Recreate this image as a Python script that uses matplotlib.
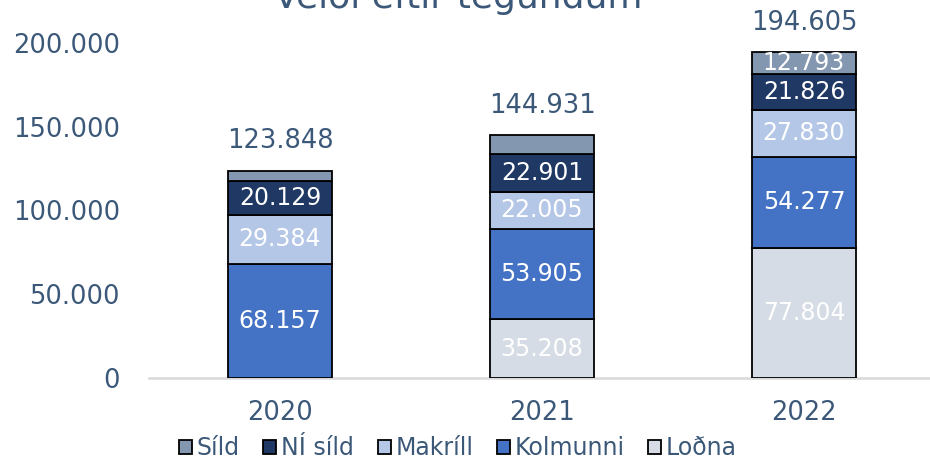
import numpy as np
import matplotlib
matplotlib.use("Agg")
import matplotlib.pyplot as plt
from matplotlib.patches import Patch

years = ['2020', '2021', '2022']
lodna = [0, 35208, 77804]
kolmunni = [68157, 53905, 54277]
makrill = [29384, 22005, 27830]
ni_sild = [20129, 22901, 21826]
sild = [6178, 10912, 12793]
totals = [123848, 144931, 194605]

series = [('Loðna', lodna, '#D6DCE5'),
          ('Kolmunni', kolmunni, '#4472C4'),
          ('Makríll', makrill, '#B4C7E7'),
          ('NÍ síld', ni_sild, '#1F3864'),
          ('Síld', sild, '#8497B0')]

txt = '#3B5878'

def fmt(v):
    return f'{v:,}'.replace(',', '.')

fig = plt.figure(figsize=(9.3, 4.62), dpi=100)
ax = fig.add_axes([149 / 930, 84 / 462, 786 / 930, 335 / 462])

x = np.arange(len(years))
bottom = np.zeros(len(years))
for name, vals, col in series:
    vals = np.array(vals)
    ax.bar(x, vals, 0.4, bottom=bottom, color=col, edgecolor='black', linewidth=1.3, zorder=3)
    for i, v in enumerate(vals):
        if v > 12000:
            ax.text(x[i], bottom[i] + v / 2, fmt(v), ha='center', va='center',
                    color='white', fontsize=17, zorder=4)
    bottom += vals

for i, t in enumerate(totals):
    ax.annotate(fmt(t), (x[i], bottom[i]), xytext=(0, 21), textcoords='offset points',
                ha='center', va='center', color=txt, fontsize=18.5, annotation_clip=False)

ax.set_xlim(-0.5, 2.5)
ax.set_ylim(0, 200000)
ax.set_yticks([0, 50000, 100000, 150000, 200000])
ax.set_yticklabels([fmt(v) for v in [0, 50000, 100000, 150000, 200000]])
ax.set_xticks(x)
ax.set_xticklabels(years)
ax.tick_params(axis='y', length=0, pad=21, labelsize=18.5, labelcolor=txt)
ax.tick_params(axis='x', length=0, pad=16, labelsize=18.5, labelcolor=txt)
for s in ['top', 'right', 'left']:
    ax.spines[s].set_visible(False)
ax.spines['bottom'].set_color('#D9D9D9')
ax.spines['bottom'].set_linewidth(1.8)
ax.spines['bottom'].set_zorder(2)

fig.text(458 / 930, 1 - 8 / 462, 'Veiði eftir tegundum', ha='center', va='baseline',
         fontsize=26, color=txt)

handles = [Patch(facecolor=c, edgecolor='black', linewidth=1.3, label=n)
           for n, v, c in reversed(series)]
leg = fig.legend(handles=handles, loc='center', bbox_to_anchor=(458 / 930, 1 - 448 / 462),
                 ncol=5, frameon=False, fontsize=17, handlelength=0.55, handleheight=0.55,
                 handletextpad=0.2, columnspacing=1.0, labelcolor=txt,
                 borderpad=0, borderaxespad=0)

fig.savefig('out.png', dpi=100)
